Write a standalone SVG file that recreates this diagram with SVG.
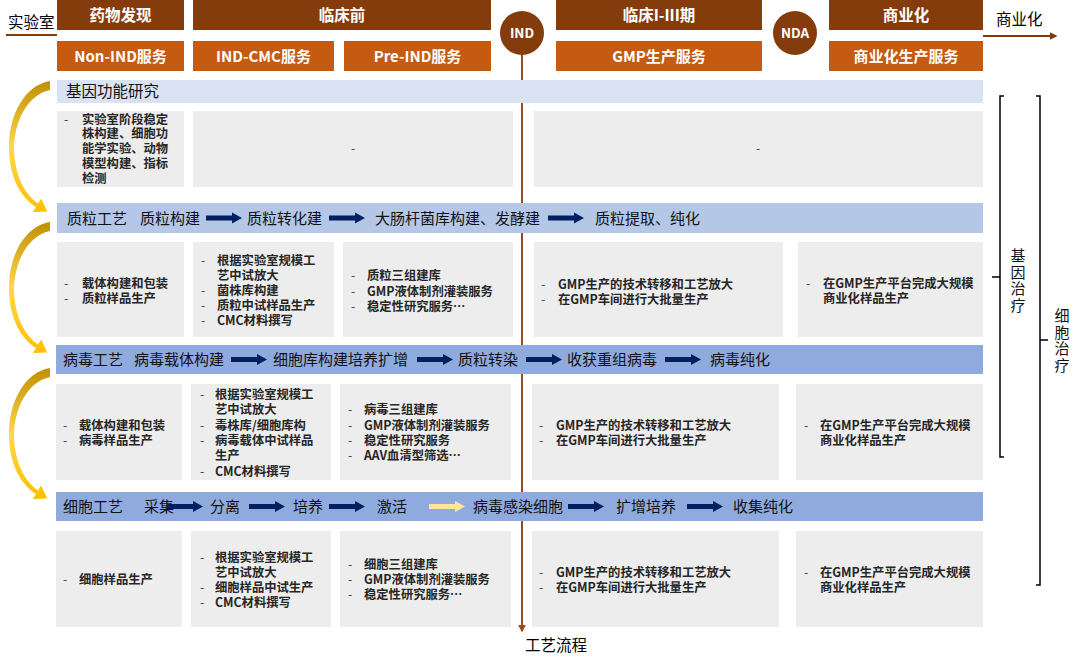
<svg xmlns="http://www.w3.org/2000/svg" width="1080" height="659" viewBox="0 0 1080 659">
<defs>
<style>
text { font-family: "Noto Sans CJK SC", "Noto Sans", sans-serif; }
.hd1 { fill:#843C0C; }
.hd2 { fill:#C55A11; }
.hdt { fill:#fff; font-weight:bold; font-size:15.5px; text-anchor:middle; }
.hdt2 { fill:#fff; font-weight:bold; font-size:15px; text-anchor:middle; }
.cirt { fill:#fff; font-weight:bold; font-size:13.5px; text-anchor:middle; }
.b1 { fill:#DAE3F3; }
.b2 { fill:#B4C7E7; }
.b3 { fill:#8FAADC; }
.bt { font-size:15px; fill:#111; }
.gb { fill:#EDEDED; }
.gt { font-size:12.3px; font-weight:bold; fill:#262626; }
.gd { font-weight:normal; fill:#404040; }
.gx { font-size:12px; fill:#404040; }
.side { font-size:15px; fill:#111; writing-mode:vertical-rl; letter-spacing:1.5px; }
.brk { fill:none; stroke:#000; stroke-width:1.5; }
.nav { fill:#002060; }
.lt { font-size:15.5px; fill:#000; }
</style>
<linearGradient id="gold" x1="0" y1="0" x2="0" y2="1">
<stop offset="0" stop-color="#BF9000"/>
<stop offset="0.5" stop-color="#FFD64F"/>
<stop offset="1" stop-color="#FFC000"/>
</linearGradient>
<path id="blk" d="M0,-2.5 H26 V-5.5 L36,0 L26,5.5 V2.5 H0 Z"/>
<path id="curv" d="M50,81 C25,85 8,115 9,150 C10,180 22,198 36,207 L32.8,212.1 L47.2,211.5 L41.2,198.5 L38,203.5 C26,195 15,178 14,150 C14,122 27,95 50,90 Z"/>
<marker id="ah" viewBox="0 0 10 10" refX="8" refY="5" markerWidth="4" markerHeight="4" orient="auto">
<path d="M0,0 L10,5 L0,10 Z" fill="#9A4A1C"/>
</marker>
<marker id="ah2" viewBox="0 0 10 10" refX="8" refY="5" markerWidth="4" markerHeight="4" orient="auto">
<path d="M0,0 L10,5 L0,10 Z" fill="#843C0C"/>
</marker>
</defs>

<rect width="1080" height="659" fill="#fff"/>

<g id="connectors">
<line x1="522" y1="55" x2="522" y2="631" stroke="#9A4A1C" stroke-width="2" marker-end="url(#ah)"/>
<line x1="983" y1="36" x2="1056" y2="36" stroke="#843C0C" stroke-width="2" marker-end="url(#ah2)"/>
<line x1="6" y1="35" x2="57" y2="35" stroke="#843C0C" stroke-width="2"/>
<use href="#curv" fill="url(#gold)"/>
<use href="#curv" y="141" fill="url(#gold)"/>
<use href="#curv" y="287" fill="url(#gold)"/>
</g>

<g id="labels-top">
<text class="lt" x="8" y="28">实验室</text>
<text class="lt" x="996" y="25">商业化</text>
<text class="lt" x="525" y="651">工艺流程</text>
</g>

<g id="header-phases">
<rect class="hd1" x="57" y="0" width="127" height="30"/>
<text class="hdt" x="120.5" y="21">药物发现</text>
<rect class="hd1" x="193" y="0" width="298" height="30"/>
<text class="hdt" x="342" y="21">临床前</text>
<rect class="hd1" x="556" y="0" width="206" height="30"/>
<text class="hdt" x="659" y="21">临床I-III期</text>
<rect class="hd1" x="829" y="0" width="154" height="30"/>
<text class="hdt" x="906" y="21">商业化</text>
</g>

<g id="header-services">
<rect class="hd2" x="57" y="41" width="127" height="30"/>
<text class="hdt2" x="120.5" y="61.5">Non-IND服务</text>
<rect class="hd2" x="193" y="41" width="141" height="30"/>
<text class="hdt2" x="263.5" y="61.5">IND-CMC服务</text>
<rect class="hd2" x="344" y="41" width="147" height="30"/>
<text class="hdt2" x="417.5" y="61.5">Pre-IND服务</text>
<rect class="hd2" x="556" y="41" width="206" height="30"/>
<text class="hdt2" x="659" y="61.5">GMP生产服务</text>
<rect class="hd2" x="829" y="41" width="154" height="30"/>
<text class="hdt2" x="906" y="61.5">商业化生产服务</text>
</g>

<g id="node-IND">
<circle cx="522" cy="33" r="22" fill="#843C0C"/>
<text class="cirt" x="522" y="38">IND</text>
</g>
<g id="node-NDA">
<circle cx="795" cy="33" r="22" fill="#843C0C"/>
<text class="cirt" x="795" y="38">NDA</text>
</g>

<g id="band-gene">
<rect class="b1" x="57" y="80" width="926" height="23"/>
<text class="bt" x="66" y="97" style="font-size:15.5px">基因功能研究</text>
</g>

<g id="row1">
<rect class="gb" x="57" y="111" width="127" height="76"/>
<text class="gt"><tspan class="gd" x="64" y="123.5">-</tspan><tspan x="82" y="123.5">实验室阶段稳定</tspan><tspan x="82" y="138">株构建、细胞功</tspan><tspan x="82" y="152.5">能学实验、动物</tspan><tspan x="82" y="167.5">模型构建、指标</tspan><tspan x="82" y="182.5">检测</tspan></text>
<rect class="gb" x="193" y="111" width="320" height="76"/>
<text class="gx" x="351" y="153">-</text>
<rect class="gb" x="534" y="111" width="449" height="76"/>
<text class="gx" x="756" y="153">-</text>
</g>

<g id="band-plasmid">
<rect class="b2" x="57" y="203" width="926" height="30"/>
<text class="bt" x="67" y="223.5">质粒工艺</text>
<text class="bt" x="140" y="223.5">质粒构建</text>
<use href="#blk" class="nav" x="206" y="218"/>
<text class="bt" x="247" y="223.5">质粒转化建</text>
<use href="#blk" class="nav" x="329" y="218"/>
<text class="bt" x="375" y="223.5">大肠杆菌库构建、发酵建</text>
<use href="#blk" class="nav" x="548" y="218"/>
<text class="bt" x="595" y="223.5">质粒提取、纯化</text>
</g>

<g id="row2">
<rect class="gb" x="57" y="242" width="127" height="95"/>
<text class="gt"><tspan class="gd" x="64" y="287.5">-</tspan><tspan x="82" y="287.5">载体构建和包装</tspan><tspan class="gd" x="64" y="302.5">-</tspan><tspan x="82" y="302.5">质粒样品生产</tspan></text>
<rect class="gb" x="193" y="242" width="141" height="95"/>
<text class="gt"><tspan class="gd" x="201" y="264.5">-</tspan><tspan x="217" y="264.5">根据实验室规模工</tspan><tspan x="217" y="279.5">艺中试放大</tspan><tspan class="gd" x="201" y="294.5">-</tspan><tspan x="217" y="294.5">菌株库构建</tspan><tspan class="gd" x="201" y="309.5">-</tspan><tspan x="217" y="309.5">质粒中试样品生产</tspan><tspan class="gd" x="201" y="324.5">-</tspan><tspan x="217" y="324.5">CMC材料撰写</tspan></text>
<rect class="gb" x="343" y="242" width="170" height="95"/>
<text class="gt"><tspan class="gd" x="351" y="279.5">-</tspan><tspan x="367" y="279.5">质粒三组建库</tspan><tspan class="gd" x="351" y="295.5">-</tspan><tspan x="367" y="295.5">GMP液体制剂灌装服务</tspan><tspan class="gd" x="351" y="310.5">-</tspan><tspan x="367" y="310.5">稳定性研究服务…</tspan></text>
<rect class="gb" x="534" y="242" width="249" height="95"/>
<text class="gt"><tspan class="gd" x="541" y="288.5">-</tspan><tspan x="558" y="288.5">GMP生产的技术转移和工艺放大</tspan><tspan class="gd" x="541" y="303.5">-</tspan><tspan x="558" y="303.5">在GMP车间进行大批量生产</tspan></text>
<rect class="gb" x="798" y="242" width="185" height="95"/>
<text class="gt"><tspan class="gd" x="806" y="287.5">-</tspan><tspan x="823" y="287.5">在GMP生产平台完成大规模</tspan><tspan x="823" y="302.5">商业化样品生产</tspan></text>
</g>

<g id="band-virus">
<rect class="b3" x="56" y="345" width="927" height="29"/>
<text class="bt" x="63" y="365">病毒工艺</text>
<text class="bt" x="134" y="365">病毒载体构建</text>
<use href="#blk" class="nav" x="231" y="359.5"/>
<text class="bt" x="273" y="365">细胞库构建培养扩增</text>
<use href="#blk" class="nav" x="417" y="359.5"/>
<text class="bt" x="458" y="365">质粒转染</text>
<use href="#blk" class="nav" x="526" y="359.5"/>
<text class="bt" x="567" y="365">收获重组病毒</text>
<use href="#blk" class="nav" x="665" y="359.5"/>
<text class="bt" x="710" y="365">病毒纯化</text>
</g>

<g id="row3">
<rect class="gb" x="56" y="384" width="126" height="96"/>
<text class="gt"><tspan class="gd" x="63" y="429.5">-</tspan><tspan x="79" y="429.5">载体构建和包装</tspan><tspan class="gd" x="63" y="444.5">-</tspan><tspan x="79" y="444.5">病毒样品生产</tspan></text>
<rect class="gb" x="191" y="384" width="140" height="96"/>
<text class="gt"><tspan class="gd" x="200" y="398.5">-</tspan><tspan x="215" y="398.5">根据实验室规模工</tspan><tspan x="215" y="413.5">艺中试放大</tspan><tspan class="gd" x="200" y="429.5">-</tspan><tspan x="215" y="429.5">毒株库/细胞库构</tspan><tspan class="gd" x="200" y="444.5">-</tspan><tspan x="215" y="444.5">病毒载体中试样品</tspan><tspan x="215" y="459.5">生产</tspan><tspan class="gd" x="200" y="475.5">-</tspan><tspan x="215" y="475.5">CMC材料撰写</tspan></text>
<rect class="gb" x="340" y="384" width="171" height="96"/>
<text class="gt"><tspan class="gd" x="348" y="413.5">-</tspan><tspan x="364" y="413.5">病毒三组建库</tspan><tspan class="gd" x="348" y="429.5">-</tspan><tspan x="364" y="429.5">GMP液体制剂灌装服务</tspan><tspan class="gd" x="348" y="444.5">-</tspan><tspan x="364" y="444.5">稳定性研究服务</tspan><tspan class="gd" x="348" y="459.5">-</tspan><tspan x="364" y="459.5">AAV血清型筛选…</tspan></text>
<rect class="gb" x="532" y="384" width="247" height="96"/>
<text class="gt"><tspan class="gd" x="539" y="429.5">-</tspan><tspan x="556" y="429.5">GMP生产的技术转移和工艺放大</tspan><tspan class="gd" x="539" y="444.5">-</tspan><tspan x="556" y="444.5">在GMP车间进行大批量生产</tspan></text>
<rect class="gb" x="796" y="384" width="187" height="96"/>
<text class="gt"><tspan class="gd" x="804" y="429.5">-</tspan><tspan x="820" y="429.5">在GMP生产平台完成大规模</tspan><tspan x="820" y="444.5">商业化样品生产</tspan></text>
</g>

<g id="band-cell">
<rect class="b3" x="56" y="492" width="927" height="29"/>
<text class="bt" x="63" y="512">细胞工艺</text>
<text class="bt" x="144" y="512">采集</text>
<use href="#blk" class="nav" x="167" y="506.5"/>
<text class="bt" x="210" y="512">分离</text>
<use href="#blk" class="nav" x="249" y="506.5"/>
<text class="bt" x="293" y="512">培养</text>
<use href="#blk" class="nav" x="329" y="506.5"/>
<text class="bt" x="377" y="512">激活</text>
<use href="#blk" x="429" y="506.5" fill="#FFE699"/>
<text class="bt" x="473" y="512">病毒感染细胞</text>
<use href="#blk" class="nav" x="568" y="506.5"/>
<text class="bt" x="616" y="512">扩增培养</text>
<use href="#blk" class="nav" x="687" y="506.5"/>
<text class="bt" x="733" y="512">收集纯化</text>
</g>

<g id="row4">
<rect class="gb" x="56" y="531" width="126" height="96"/>
<text class="gt"><tspan class="gd" x="63" y="583.5">-</tspan><tspan x="79" y="583.5">细胞样品生产</tspan></text>
<rect class="gb" x="191" y="531" width="140" height="96"/>
<text class="gt"><tspan class="gd" x="200" y="561.5">-</tspan><tspan x="215" y="561.5">根据实验室规模工</tspan><tspan x="215" y="576.5">艺中试放大</tspan><tspan class="gd" x="200" y="591.5">-</tspan><tspan x="215" y="591.5">细胞样品中试生产</tspan><tspan class="gd" x="200" y="606.5">-</tspan><tspan x="215" y="606.5">CMC材料撰写</tspan></text>
<rect class="gb" x="340" y="531" width="171" height="96"/>
<text class="gt"><tspan class="gd" x="348" y="568.5">-</tspan><tspan x="364" y="568.5">细胞三组建库</tspan><tspan class="gd" x="348" y="583.5">-</tspan><tspan x="364" y="583.5">GMP液体制剂灌装服务</tspan><tspan class="gd" x="348" y="598.5">-</tspan><tspan x="364" y="598.5">稳定性研究服务…</tspan></text>
<rect class="gb" x="532" y="531" width="247" height="96"/>
<text class="gt"><tspan class="gd" x="539" y="576.5">-</tspan><tspan x="556" y="576.5">GMP生产的技术转移和工艺放大</tspan><tspan class="gd" x="539" y="591.5">-</tspan><tspan x="556" y="591.5">在GMP车间进行大批量生产</tspan></text>
<rect class="gb" x="796" y="531" width="187" height="96"/>
<text class="gt"><tspan class="gd" x="804" y="576.5">-</tspan><tspan x="820" y="576.5">在GMP生产平台完成大规模</tspan><tspan x="820" y="591.5">商业化样品生产</tspan></text>
</g>

<g id="bracket-gene">
<path class="brk" d="M1004,96 H1000 V457 H1004 M992,277 H1000"/>
<text class="side" x="1018" y="248">基因治疗</text>
</g>
<g id="bracket-cell">
<path class="brk" d="M1036,96 H1040 V585 H1036 M1040,340 H1048"/>
<text class="side" x="1062" y="308">细胞治疗</text>
</g>
</svg>
